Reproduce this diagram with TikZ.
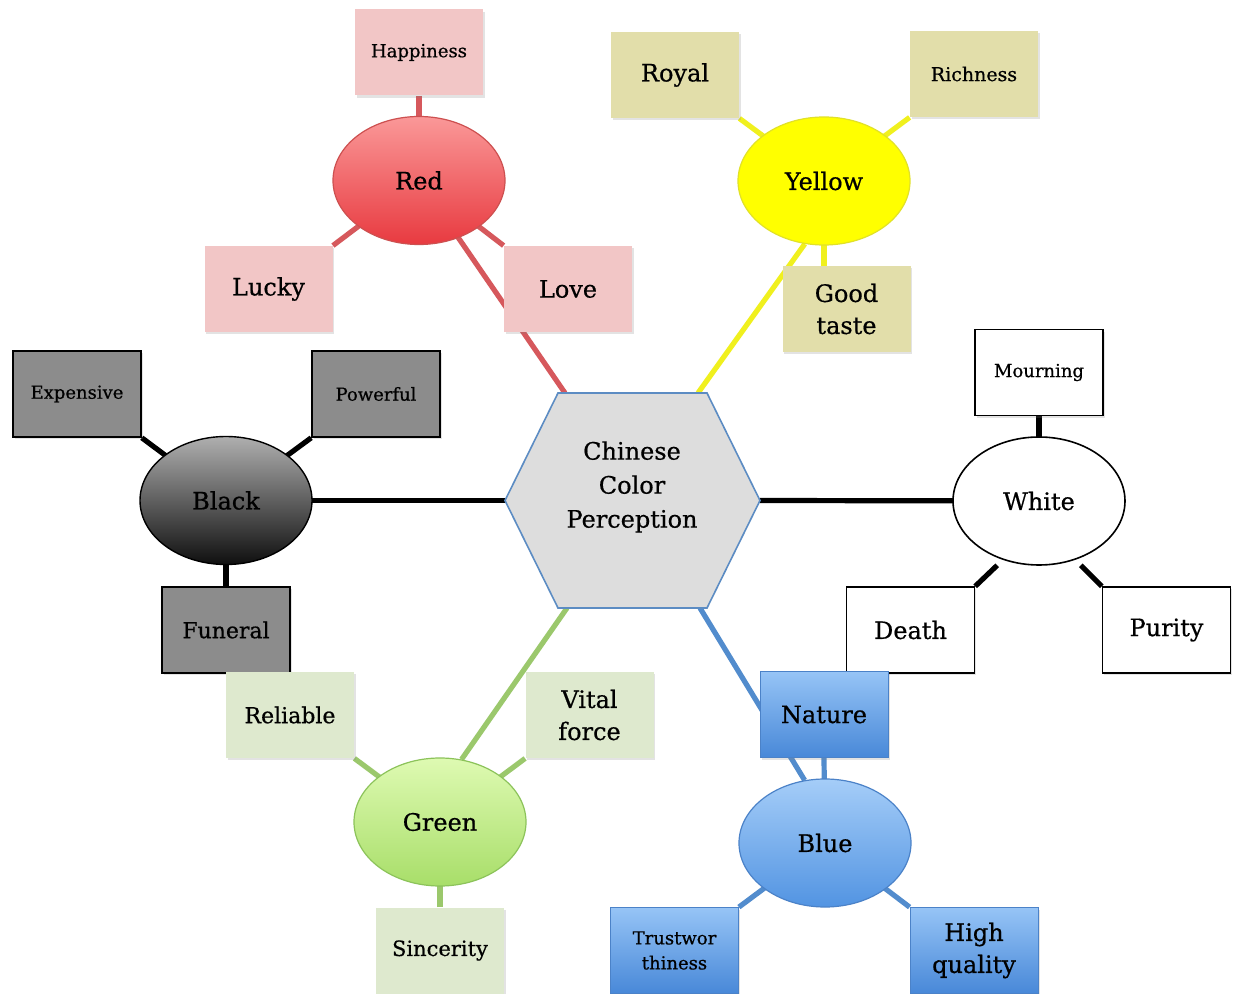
\documentclass[tikz,border=0pt]{standalone}
\usepackage{fontspec}
\setmainfont{DejaVu Serif}[FakeBold=0.6]
\usetikzlibrary{shapes.geometric,shadows,calc}
\newcommand\mmBig{\fontsize{12}{16}\selectfont}
\newcommand\mmMid{\fontsize{11}{14}\selectfont}
\newcommand\mmSmall{\fontsize{9}{12.5}\selectfont}
\definecolor{redln}{RGB}{214,88,92}
\definecolor{pinkbox}{RGB}{242,198,198}
\definecolor{redtop}{RGB}{250,152,152}
\definecolor{redbot}{RGB}{232,58,64}
\definecolor{redbd}{RGB}{205,80,80}
\definecolor{yel}{RGB}{255,255,0}
\definecolor{yelln}{RGB}{240,240,30}
\definecolor{yelbd}{RGB}{225,225,40}
\definecolor{khaki}{RGB}{226,222,170}
\definecolor{graybox}{RGB}{140,140,140}
\definecolor{blktop}{RGB}{175,175,175}
\definecolor{blkbot}{RGB}{15,15,15}
\definecolor{grnbox}{RGB}{222,233,206}
\definecolor{grnln}{RGB}{155,200,108}
\definecolor{grntop}{RGB}{222,250,178}
\definecolor{grnbot}{RGB}{168,222,105}
\definecolor{grnbd}{RGB}{140,195,90}
\definecolor{bluln}{RGB}{82,140,205}
\definecolor{blutop}{RGB}{165,205,248}
\definecolor{blubot}{RGB}{82,148,226}
\definecolor{blubd}{RGB}{75,130,200}
\definecolor{bboxtop}{RGB}{150,196,246}
\definecolor{bboxbot}{RGB}{72,136,216}
\definecolor{hexfill}{RGB}{221,221,221}
\definecolor{hexbd}{RGB}{92,140,195}
\pgfdeclarelayer{bg}
\pgfdeclarelayer{lines}
\pgfsetlayers{bg,lines,main}
\begin{document}
\begin{tikzpicture}[x=0.5pt,y=-0.5pt,
  box/.style={rectangle,minimum width=64pt,minimum height=43pt,inner sep=1pt,align=center,font=\mmBig,
    drop shadow={shadow xshift=0.9pt,shadow yshift=-1.1pt,opacity=0.22}},
  oval/.style={ellipse,minimum width=86pt,minimum height=64pt,inner sep=0pt,font=\mmBig},
  conn/.style={line width=2.6pt},
  pinkb/.style={box,fill=pinkbox},
  khakib/.style={box,fill=khaki},
  grayb/.style={box,fill=graybox,draw=black,line width=0.8pt},
  whiteb/.style={box,fill=white,draw=black,line width=0.7pt},
  greenb/.style={box,fill=grnbox},
  blueb/.style={box,top color=bboxtop,bottom color=bboxbot,draw=blubd,line width=0.4pt}
]
\useasboundingbox (0,0) rectangle (1233,994);
\begin{pgfonlayer}{bg}
\fill[white] (0,0) rectangle (1233,994);
\end{pgfonlayer}

% central hexagon
\coordinate (hL) at (505,500.5);
\coordinate (hTL) at (558,393);
\coordinate (hTR) at (707,393);
\coordinate (hR) at (760,500.5);
\coordinate (hBR) at (707,608);
\coordinate (hBL) at (558,608);
\draw[hexbd,fill=hexfill,line width=0.8pt] (hL) -- (hTL) -- (hTR) -- (hR) -- (hBR) -- (hBL) -- cycle;
\node[font=\fontsize{12}{17}\selectfont,align=center] (hex) at (632,487) {Chinese\\Color\\Perception};
\coordinate (hRed) at (565,393);
\coordinate (hYel) at (698,393);
\coordinate (hGrn) at (567,608);
\coordinate (hBlu) at (700,608);

% colour ovals
\node[oval,top color=redtop,bottom color=redbot,draw=redbd,line width=0.6pt] (red) at (419,180.5) {Red};
\node[oval,fill=yel,draw=yelbd,line width=0.6pt] (yellow) at (824,181) {Yellow};
\node[oval,top color=blktop,bottom color=blkbot,draw=black,line width=0.7pt] (black) at (226,500.5) {Black};
\node[oval,fill=white,draw=black,line width=0.8pt] (white) at (1039,501) {White};
\node[oval,top color=grntop,bottom color=grnbot,draw=grnbd,line width=0.6pt] (green) at (440,822) {Green};
\node[oval,top color=blutop,bottom color=blubot,draw=blubd,line width=0.6pt] (blue) at (825,843) {Blue};

% boxes
\node[pinkb,font=\mmSmall] (happy) at (419,52.5) {Happiness};
\node[pinkb] (lucky) at (268.5,289) {Lucky};
\node[pinkb] (love) at (568,289) {Love};
\node[khakib] (royal) at (675,75) {Royal};
\node[khakib,font=\fontsize{9.5}{12.5}\selectfont] (rich) at (974,74) {Richness};
\node[khakib] (good) at (846.5,309) {Good\\taste};
\node[grayb,font=\mmSmall] (exp) at (77,394) {Expensive};
\node[grayb,font=\mmSmall] (pow) at (376,394) {Powerful};
\node[grayb,font=\mmMid] (fun) at (226,630) {Funeral};
\node[whiteb,font=\mmSmall] (mourn) at (1039,372.5) {Mourning};
\node[whiteb] (death) at (910.5,630) {Death};
\node[whiteb] (purity) at (1166.5,630) {Purity};
\node[greenb,font=\mmMid] (rel) at (290,715) {Reliable};
\node[greenb] (vital) at (589.5,715) {Vital\\force};
\node[greenb,font=\fontsize{10.5}{13}\selectfont] (sinc) at (440,950.5) {Sincerity};
\node[blueb] (nature) at (824,714.5) {Nature};
\node[blueb,font=\mmSmall] (trust) at (674.5,950.5) {Trustwor\\thiness};
\node[blueb] (hq) at (974,950.5) {High\\quality};

\coordinate (dw) at ($(death.north east)+(22,-21)$);
\coordinate (pw) at ($(purity.north west)+(-21,-21)$);

% connectors
\begin{pgfonlayer}{lines}
\draw[conn,redln] (red.center) -- (hRed);
\draw[conn,redln] (happy.south) -- (red.center);
\draw[conn,redln] (lucky.north east) -- (red.center);
\draw[conn,redln] (love.north west) -- (red.center);
\draw[conn,yelln] (yellow.253) -- (hYel);
\draw[conn,yelln] (royal.south east) -- (yellow.center);
\draw[conn,yelln] (rich.south west) -- (yellow.center);
\draw[conn,yelln] (yellow.center) -- (yellow.center |- good.north);
\draw[conn,black] (black.center) -- (hL);
\draw[conn,black] (exp.south east) -- (black.center);
\draw[conn,black] (pow.south west) -- (black.center);
\draw[conn,black] (fun.north) -- (black.center);
\draw[conn,black] (hR) -- (white.center);
\draw[conn,black] (mourn.south) -- (white.center);
\draw[conn,black] (death.north east) -- (dw);
\draw[conn,black] (purity.north west) -- (pw);
\draw[conn,grnln] (green.71) -- (hGrn);
\draw[conn,grnln] (rel.south east) -- (green.center);
\draw[conn,grnln] (vital.south west) -- (green.center);
\draw[conn,grnln] (sinc.north) -- (green.center);
\draw[conn,bluln] (blue.108) -- (hBlu);
\draw[conn,bluln] (nature.south) -- (blue.center);
\draw[conn,bluln] (trust.north east) -- (blue.center);
\draw[conn,bluln] (hq.north west) -- (blue.center);
\end{pgfonlayer}
\end{tikzpicture}
\end{document}
